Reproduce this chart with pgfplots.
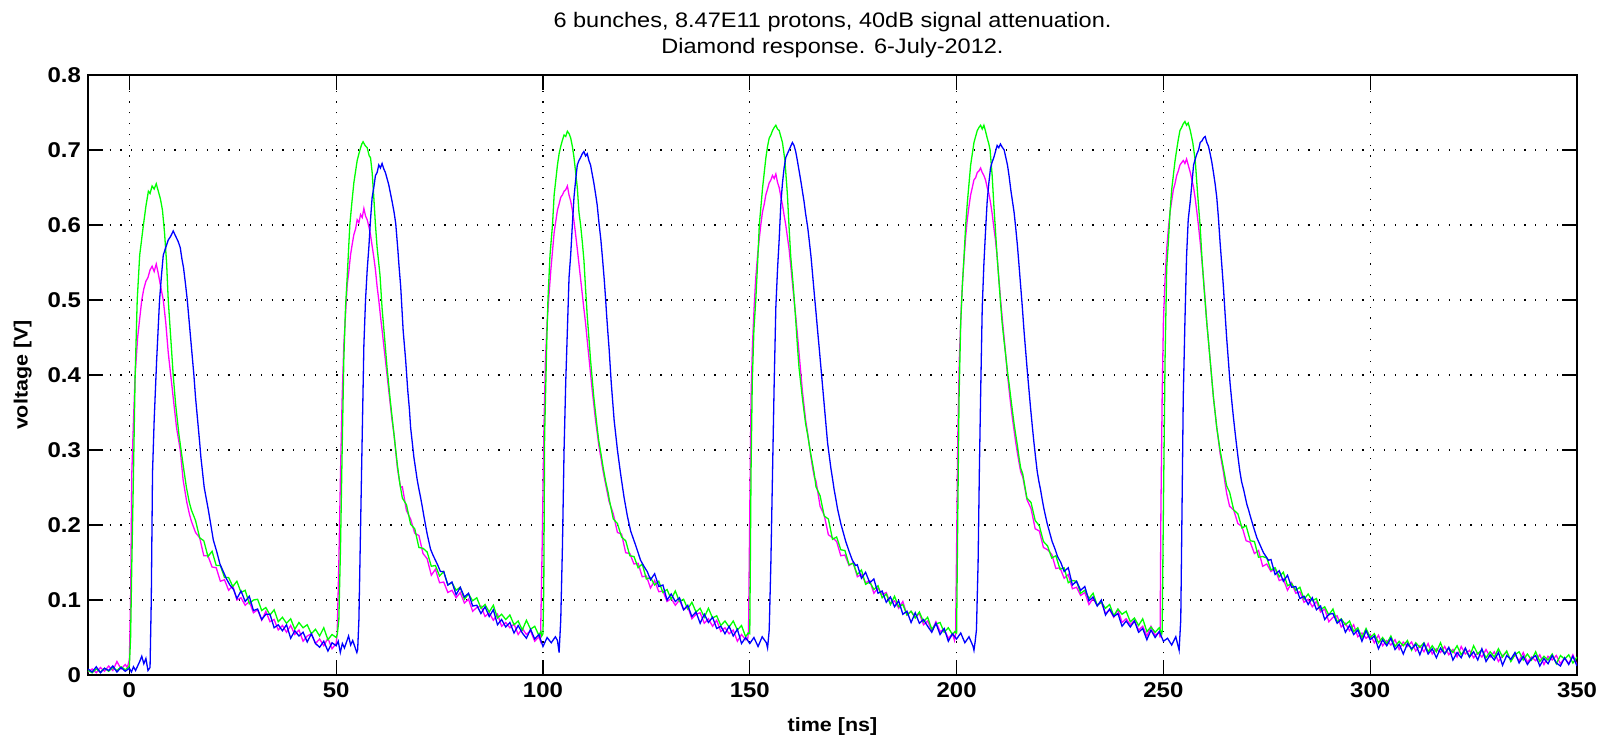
\documentclass[border=0pt]{standalone}
\usepackage{pgfplots}
\pgfplotsset{compat=1.18}
\usepackage{fontspec}
\setmainfont{Liberation Sans}[FakeStretch=1.12]
\definecolor{mgreen}{rgb}{0,1,0}
\definecolor{mmag}{rgb}{1,0,1}
\definecolor{mblue}{rgb}{0,0,1}
\begin{document}
\begin{tikzpicture}
\path[use as bounding box] (-44pt,-30.5pt) rectangle (761pt,337.5pt);
\begin{axis}[
  at={(0,0)}, anchor=south west,
  scale only axis, width=744.5pt, height=300pt,
  xmin=-10, xmax=350, ymin=0, ymax=0.8,
  xtick={0,50,...,350}, ytick={0,0.1,...,0.8},
  yticklabels={0,0.1,0.2,0.3,0.4,0.5,0.6,0.7,0.8},
  /pgf/number format/assume math mode=true,
  tick align=inside, major tick length=7.5pt,
  tick style={black, line width=0.6pt},
  axis line style={black, line width=0.8pt},
  grid=major,
  major grid style={black, line width=0.6pt, dash pattern=on 0.6pt off 4.8pt},
  tick label style={font=\bfseries\fontsize{10.7}{12}\selectfont},
  xlabel={time [ns]}, ylabel={voltage [V]},
  label style={font=\bfseries\fontsize{9.6}{11}\selectfont},
  xlabel style={at={(axis description cs:0.5,-0.0867)}, anchor=center},
  ylabel style={at={(axis description cs:-0.0439,0.5)}, anchor=center},
  title={6 bunches, 8.47E11 protons, 40dB signal attenuation.\\Diamond response. 6-July-2012.},
  title style={at={(axis description cs:0.5,1.047)}, anchor=center, align=center, font=\fontsize{10.5}{13}\selectfont},
  every axis plot/.append style={line width=0.65pt},
]
% magenta
\addplot[mmag] coordinates {
(-10,.004)(-9,.008)(-8,.003)(-7,.010)(-6,.005)(-5,.012)(-4,.006)(-3,.018)(-2,.008)(-1,.014)(-0.5,.010)(0,.02)
(0.3,.10)(0.6,.27)(1.0,.34)(1.4,.40)(2.0,.45)(3.0,.50)(3.5,.515)(4.0,.525)(4.5,.53)(5.0,.54)(5.5,.545)(6.0,.538)(6.5,.548)(7.0,.535)(7.5,.52)(8.2,.50)(8.8,.47)(9.4,.43)(10.0,.40)(10.6,.37)(11.4,.33)(12.3,.30)(13.0,.26)(13.9,.23)(14.5,.215)(15.0,.205)
(16,.190)(17,.183)(18,.159)(19,.159)(20,.144)(21,.143)(22,.125)(23,.127)(24,.113)(25,.119)(26,.100)(27,.103)(28,.093)(29,.098)(30,.083)(31,.087)(32,.073)(33,.085)(34,.071)(35,.074)(36,.060)(37,.066)(38,.057)(39,.066)(40,.054)(41,.060)(42,.045)(43,.052)(44,.055)(45,.042)(46,.048)(47,.039)(48,.049)(49,.035)
(50.0,.042)(50.24,.054)(50.65,.15)(51.05,.27)(51.45,.37)(51.85,.44)(52.26,.48)(52.66,.52)(53.0,.535)(53.47,.56)(53.9,.575)(54.27,.587)(54.7,.595)(55.08,.607)(55.5,.603)(55.9,.614)(56.3,.61)(56.7,.622)(57.1,.612)(57.5,.607)(57.9,.598)(58.3,.587)(58.7,.572)(59.1,.557)(59.5,.54)(59.9,.518)(60.3,.50)(60.7,.479)(61.1,.46)(61.5,.44)(61.9,.42)(62.3,.40)(62.7,.38)(63.1,.36)(63.5,.34)(64.0,.32)(64.4,.298)(64.8,.276)(65.2,.262)(65.6,.25)
(66,.251)(67,.219)(68,.208)(69,.189)(70,.186)(71,.162)(72,.155)(73,.133)(74,.141)(75,.123)(76,.124)(77,.110)(78,.113)(79,.103)(80,.110)(81,.096)(82,.101)(83,.085)(84,.090)(85,.092)(86,.078)(87,.083)(88,.073)(89,.081)(90,.065)(91,.070)(92,.063)(93,.068)(94,.054)(95,.062)(96,.054)(97,.059)(98,.045)(99,.051)
(99.4,.045)(99.8,.17)(100.2,.32)(100.6,.42)(101.0,.47)(101.5,.51)(101.9,.54)(102.3,.565)(102.7,.59)(103.1,.605)(103.5,.62)(103.9,.628)(104.3,.637)(104.7,.64)(105.1,.645)(105.5,.647)(105.9,.652)(106.3,.64)(106.7,.632)(107.1,.62)(107.5,.605)(107.9,.587)(108.3,.568)(108.7,.548)(109.1,.528)(109.5,.508)(109.9,.488)(110.3,.469)(110.7,.446)(111.1,.424)(111.5,.402)(111.9,.38)(112.3,.36)(112.7,.34)(113.1,.323)(113.5,.306)(114.0,.29)(114.4,.276)(114.8,.264)(115.2,.253)(115.6,.242)
(116,.231)(117,.215)(118,.190)(119,.188)(120,.163)(121,.162)(122,.148)(123,.149)(124,.131)(125,.132)(126,.116)(127,.126)(128,.111)(129,.112)(130,.098)(131,.102)(132,.093)(133,.100)(134,.087)(135,.091)(136,.075)(137,.081)(138,.083)(139,.069)(140,.075)(141,.065)(142,.073)(143,.058)(144,.063)(145,.055)(146,.060)(147,.045)(148,.054)(149,.047)
(149.5,.048)(149.7,.059)(150.0,.22)(150.3,.37)(150.65,.44)(151.05,.49)(151.45,.53)(151.85,.557)(152.26,.58)(152.66,.60)(153.06,.617)(153.5,.628)(153.87,.64)(154.3,.648)(154.68,.656)(155.1,.66)(155.48,.666)(155.9,.662)(156.3,.668)(156.7,.657)(157.1,.65)(157.5,.638)(157.9,.627)(158.3,.613)(158.7,.60)(159.1,.584)(159.5,.568)(159.9,.546)(160.3,.523)(160.7,.50)(161.1,.479)(161.5,.455)(161.9,.43)(162.3,.405)(162.7,.38)(163.1,.36)(163.5,.34)(164.0,.322)(164.4,.306)(164.8,.29)(165.2,.276)(165.6,.264)
(166,.259)(167,.225)(168,.213)(169,.187)(170,.183)(171,.178)(172,.159)(173,.160)(174,.146)(175,.150)(176,.131)(177,.134)(178,.123)(179,.126)(180,.109)(181,.116)(182,.107)(183,.110)(184,.095)(185,.099)(186,.089)(187,.098)(188,.080)(189,.085)(190,.077)(191,.082)(192,.067)(193,.072)(194,.059)(195,.071)(196,.058)(197,.061)(198,.049)(199,.055)(199.5,.046)
(199.76,.054)(200.0,.17)(200.3,.32)(200.65,.42)(201.13,.49)(201.45,.525)(201.77,.553)(202.2,.585)(202.58,.607)(203.0,.625)(203.39,.64)(203.8,.65)(204.19,.66)(204.6,.663)(205.0,.67)(205.4,.672)(205.8,.676)(206.2,.67)(206.6,.666)(207.0,.66)(207.4,.65)(207.8,.642)(208.2,.63)(208.6,.615)(209.0,.597)(209.4,.58)(209.8,.558)(210.2,.53)(210.6,.503)(211.0,.478)(211.5,.449)(211.9,.425)(212.3,.40)(212.7,.38)(213.1,.36)(213.5,.342)(213.9,.326)(214.3,.31)(214.7,.296)(215.1,.283)(215.5,.271)
(216,.264)(217,.234)(218,.222)(219,.195)(220,.192)(221,.170)(222,.167)(223,.161)(224,.142)(225,.143)(226,.129)(227,.134)(228,.115)(229,.117)(230,.106)(231,.110)(232,.094)(233,.102)(234,.093)(235,.097)(236,.082)(237,.087)(238,.077)(239,.087)(240,.070)(241,.075)(242,.067)(243,.073)(244,.060)(245,.065)(246,.052)(247,.065)(248,.053)(249,.057)
(249.2,.05)(249.4,.22)(249.7,.37)(250.0,.47)(250.4,.528)(250.8,.568)(251.2,.595)(251.6,.617)(252.0,.632)(252.4,.647)(252.8,.655)(253.2,.666)(253.6,.672)(254.0,.68)(254.4,.683)(254.8,.686)(255.2,.682)(255.6,.688)(256.0,.68)(256.5,.67)(256.9,.66)(257.3,.65)(257.7,.635)(258.1,.617)(258.5,.598)(258.9,.577)(259.3,.553)(259.7,.528)(260.1,.50)(260.5,.469)(260.9,.445)(261.3,.42)(261.7,.395)(262.1,.37)(262.5,.35)(262.9,.33)(263.3,.313)(263.7,.296)(264.1,.283)(264.5,.271)(264.9,.256)(265.3,.242)
(266,.225)(267,.220)(268,.202)(269,.198)(270,.179)(271,.177)(272,.162)(273,.166)(274,.145)(275,.148)(276,.138)(277,.142)(278,.126)(279,.128)(280,.113)(281,.123)(282,.109)(283,.111)(284,.097)(285,.101)(286,.091)(287,.098)(288,.084)(289,.088)(290,.071)(291,.077)(292,.079)(293,.064)(294,.069)(295,.059)(296,.067)(297,.051)(298,.056)(299,.049)(300,.054)
(301,.043)(302,.053)(303,.039)(304,.046)(305,.040)(306,.047)(307,.034)(308,.044)(309,.038)(310,.044)(311,.032)(312,.039)(313,.031)(314,.042)(315,.028)(316,.035)(317,.030)(318,.038)(319,.027)(320,.034)(321,.024)(322,.038)(323,.028)(324,.033)(325,.023)(326,.030)(327,.024)(328,.034)(329,.024)(330,.031)(331,.018)(332,.026)(333,.031)(334,.019)(335,.027)(336,.019)(337,.030)(338,.017)(339,.024)(340,.019)(341,.027)(342,.014)(343,.025)(344,.020)(345,.026)(346,.015)(347,.023)(348,.015)(349,.027)(350,.013)
};
% green
\addplot[mgreen] coordinates {
(-10,.006)(-9,.003)(-8,.008)(-7,.004)(-6,.009)(-5,.005)(-4,.010)(-3,.006)(-2,.011)(-1,.007)(-0.5,.009)(0,.012)
(0.3,.05)(0.6,.15)(1.0,.27)(1.4,.40)(1.9,.50)(2.5,.56)(3.4,.60)(4.0,.625)(4.6,.645)(5.0,.642)(5.5,.652)(6.0,.648)(6.5,.655)(7.0,.645)(7.5,.635)(8.0,.62)(8.5,.59)(9.0,.55)(9.4,.50)(10.0,.45)(10.6,.40)(11.2,.36)(12.0,.32)(12.5,.30)(13.0,.28)(13.8,.25)(14.5,.23)(15.0,.22)
(16,.206)(17,.183)(18,.179)(19,.158)(20,.165)(21,.146)(22,.146)(23,.130)(24,.130)(25,.118)(26,.125)(27,.110)(28,.113)(29,.095)(30,.100)(31,.101)(32,.086)(33,.090)(34,.080)(35,.087)(36,.071)(37,.077)(38,.069)(39,.075)(40,.061)(41,.070)(42,.063)(43,.067)(44,.055)(45,.061)(46,.052)(47,.063)(48,.047)(49,.054)
(50.0,.050)(50.3,.055)(50.65,.074)(51.05,.17)(51.45,.30)(51.85,.42)(52.26,.49)(52.66,.53)(53.3,.60)(53.8,.63)(54.27,.656)(54.7,.672)(55.08,.686)(55.5,.695)(55.9,.703)(56.2,.708)(56.5,.711)(57.0,.706)(57.5,.703)(58.0,.692)(58.3,.690)(58.7,.67)(59.1,.637)(59.5,.60)(59.9,.57)(60.6,.533)(61.1,.489)(61.7,.45)(62.3,.41)(63.1,.365)(64.0,.32)(64.8,.28)(65.4,.255)
(66,.236)(67,.227)(68,.201)(69,.195)(70,.170)(71,.169)(72,.164)(73,.145)(74,.146)(75,.132)(76,.138)(77,.120)(78,.123)(79,.113)(80,.117)(81,.101)(82,.108)(83,.099)(84,.103)(85,.089)(86,.094)(87,.084)(88,.093)(89,.076)(90,.081)(91,.074)(92,.080)(93,.067)(94,.072)(95,.060)(96,.073)(97,.061)(98,.065)(99,.053)(99.5,.058)(99.7,.052)
(100.0,.055)(100.2,.12)(100.4,.32)(100.9,.44)(101.2,.50)(101.7,.56)(102.3,.60)(102.7,.64)(103.1,.66)(103.5,.68)(103.9,.695)(104.3,.705)(104.7,.713)(105.1,.72)(105.5,.718)(105.9,.725)(106.3,.722)(106.7,.716)(107.1,.705)(107.5,.69)(107.9,.67)(108.3,.65)(108.7,.617)(109.1,.60)(109.5,.578)(109.9,.553)(110.3,.515)(110.7,.479)(111.1,.45)(111.5,.42)(111.9,.395)(112.3,.37)(112.7,.35)(113.1,.33)(113.5,.312)(114.0,.296)(114.6,.275)(115.2,.257)(115.8,.242)
(116,.235)(117,.208)(118,.202)(119,.184)(120,.179)(121,.159)(122,.158)(123,.143)(124,.148)(125,.128)(126,.130)(127,.120)(128,.125)(129,.110)(130,.114)(131,.101)(132,.112)(133,.098)(134,.101)(135,.088)(136,.097)(137,.084)(138,.089)(139,.077)(140,.089)(141,.076)(142,.079)(143,.066)(144,.072)(145,.064)(146,.072)(147,.060)(148,.066)(149,.051)(149.6,.056)
(150.0,.055)(150.3,.27)(150.6,.39)(151.0,.46)(151.45,.50)(151.9,.55)(152.3,.60)(152.7,.625)(153.1,.65)(153.5,.67)(153.9,.69)(154.3,.705)(154.7,.716)(155.1,.72)(155.5,.726)(155.9,.73)(156.3,.733)(156.7,.728)(157.1,.726)(157.5,.718)(157.9,.71)(158.5,.686)(159.1,.64)(159.5,.597)(159.9,.558)(160.3,.533)(160.7,.505)(161.1,.474)(161.5,.44)(161.9,.41)(162.3,.39)(162.7,.37)(163.1,.352)(163.5,.335)(164.0,.32)(164.4,.306)(164.8,.293)(165.2,.281)(165.6,.268)
(166,.251)(167,.239)(168,.212)(169,.208)(170,.181)(171,.184)(172,.167)(173,.166)(174,.147)(175,.149)(176,.134)(177,.140)(178,.121)(179,.124)(180,.114)(181,.119)(182,.103)(183,.108)(184,.094)(185,.105)(186,.091)(187,.094)(188,.080)(189,.085)(190,.076)(191,.084)(192,.071)(193,.077)(194,.061)(195,.068)(196,.070)(197,.057)(198,.063)(199,.054)(199.6,.058)
(200.0,.056)(200.3,.22)(200.6,.37)(201.0,.47)(201.4,.52)(201.8,.558)(202.2,.60)(202.6,.63)(203.0,.655)(203.4,.68)(203.8,.695)(204.2,.71)(204.6,.718)(205.0,.726)(205.4,.73)(205.8,.733)(206.2,.728)(206.6,.733)(207.0,.725)(207.4,.716)(207.8,.708)(208.1,.70)(208.6,.666)(209.0,.627)(209.4,.592)(209.8,.558)(210.2,.528)(210.6,.498)(211.0,.47)(211.5,.444)(211.9,.425)(212.3,.405)(212.7,.388)(213.1,.37)(213.5,.352)(213.9,.335)(214.3,.32)(214.7,.306)(215.1,.29)(215.5,.276)
(216,.268)(217,.236)(218,.230)(219,.206)(220,.199)(221,.178)(222,.172)(223,.156)(224,.159)(225,.141)(226,.143)(227,.123)(228,.126)(229,.125)(230,.109)(231,.113)(232,.102)(233,.109)(234,.093)(235,.097)(236,.089)(237,.094)(238,.079)(239,.088)(240,.081)(241,.085)(242,.071)(243,.076)(244,.066)(245,.075)(246,.058)(247,.064)(248,.057)(249,.063)(249.6,.055)
(249.7,.058)(250.0,.22)(250.4,.42)(250.8,.543)(251.2,.577)(251.6,.617)(252.0,.647)(252.4,.666)(252.8,.685)(253.2,.70)(253.6,.714)(254.0,.726)(254.4,.73)(254.8,.735)(255.2,.738)(255.6,.733)(256.0,.736)(256.5,.726)(257.1,.71)(257.7,.686)(258.2,.647)(258.9,.597)(259.3,.558)(259.8,.518)(260.5,.469)(260.9,.445)(261.3,.42)(261.7,.395)(262.1,.37)(262.5,.35)(262.9,.33)(263.3,.315)(263.7,.30)(264.1,.288)(264.5,.276)(264.9,.264)(265.3,.252)
(266,.244)(267,.220)(268,.215)(269,.196)(270,.199)(271,.179)(272,.178)(273,.157)(274,.158)(275,.156)(276,.140)(277,.143)(278,.131)(279,.137)(280,.119)(281,.122)(282,.113)(283,.117)(284,.101)(285,.108)(286,.099)(287,.102)(288,.087)(289,.091)(290,.080)(291,.088)(292,.071)(293,.075)(294,.067)(295,.072)(296,.058)(297,.063)(298,.050)(299,.062)(300,.050)
(301,.055)(302,.043)(303,.050)(304,.042)(305,.052)(306,.038)(307,.045)(308,.039)(309,.046)(310,.033)(311,.043)(312,.037)(313,.043)(314,.031)(315,.039)(316,.031)(317,.043)(318,.028)(319,.036)(320,.030)(321,.039)(322,.027)(323,.035)(324,.024)(325,.039)(326,.028)(327,.034)(328,.023)(329,.031)(330,.024)(331,.035)(332,.024)(333,.032)(334,.018)(335,.027)(336,.031)(337,.020)(338,.028)(339,.020)(340,.031)(341,.018)(342,.025)(343,.020)(344,.028)(345,.015)(346,.026)(347,.021)(348,.027)(349,.016)(350,.024)
};
% blue
\addplot[mblue] coordinates {
(-10,.008)(-9,.004)(-8,.011)(-7,.003)(-6,.009)(-5,.006)(-4,.012)(-3,.004)(-2,.010)(-1,.005)(0,.009)
(0.5,.004)(1.0,.011)(1.5,.006)(2.0,.012)(2.5,.018)(3.0,.025)(3.5,.015)(4.0,.022)(4.5,.006)(5.0,.01)(5.3,.10)(5.6,.27)(6.0,.34)(6.6,.42)(7.3,.50)(7.8,.535)(8.2,.56)(8.8,.57)(9.4,.58)(10.0,.585)(10.6,.592)(11.2,.585)(11.8,.578)(12.3,.57)(12.7,.555)(13.1,.543)(13.6,.52)(14.0,.50)(14.4,.475)(14.8,.45)(15.2,.425)(15.6,.40)(16.0,.37)(16.5,.34)(17.0,.31)(17.3,.29)(17.7,.27)(18.1,.25)(18.6,.235)(19.1,.22)(19.7,.20)(20.3,.18)(21.1,.165)(21.9,.148)(22.7,.138)(23.5,.128)(24.3,.12)(25.2,.114)
(26,.102)(27,.112)(28,.098)(29,.105)(30,.086)(31,.088)(32,.074)(33,.081)(34,.081)(35,.063)(36,.067)(37,.059)(38,.067)(39,.049)(40,.059)(41,.052)(42,.057)(43,.044)(44,.055)(45,.042)(46,.037)(47,.045)(48,.032)(49,.043)
(50,.039)(50.5,.045)(51,.030)(51.5,.042)(52,.036)(52.5,.044)(53,.052)(53.5,.040)(54,.046)(54.5,.038)(55,.030)(55.2,.034)
(55.5,.074)(55.9,.197)(56.3,.32)(56.7,.44)(57.1,.50)(57.5,.54)(57.9,.57)(58.3,.607)(58.7,.637)(59.1,.65)(59.5,.666)(59.9,.67)(60.3,.68)(60.7,.676)(61.1,.682)(61.5,.675)(61.9,.67)(62.3,.662)(62.7,.654)(63.1,.643)(63.5,.632)(64.0,.617)(64.4,.602)(64.9,.568)(65.2,.545)(65.6,.518)(66.2,.459)(66.8,.42)(67.3,.38)(67.7,.355)(68.0,.33)(68.4,.31)(68.8,.29)(69.2,.275)(69.6,.26)(70.0,.248)(70.4,.237)(70.8,.225)(71.2,.212)(71.6,.20)(72.0,.188)(72.4,.178)(72.8,.168)(73.4,.16)(74.0,.153)(74.6,.146)(75.2,.138)
(76,.138)(77,.120)(78,.124)(79,.107)(80,.117)(81,.104)(82,.109)(83,.092)(84,.093)(85,.082)(86,.091)(87,.078)(88,.087)(89,.067)(90,.074)(91,.064)(92,.070)(93,.056)(94,.066)(95,.056)(96,.049)(97,.061)(98,.048)(99,.054)(100,.038)(101,.050)(102,.043)(103,.051)
(103.5,.046)(103.9,.030)(104.3,.074)(104.7,.17)(105.1,.30)(105.5,.39)(105.9,.46)(106.3,.53)(106.7,.56)(107.1,.60)(107.5,.637)(107.9,.66)(108.3,.68)(108.7,.686)(109.1,.69)(109.5,.695)(109.9,.698)(110.3,.692)(110.7,.695)(111.1,.686)(111.5,.68)(111.9,.668)(112.3,.656)(112.7,.642)(113.1,.627)(113.5,.605)(114.0,.58)(114.4,.555)(114.8,.528)(115.1,.505)(115.4,.479)(115.7,.456)(116.0,.434)(116.5,.39)(117.2,.34)(118.0,.30)(118.8,.267)(119.6,.237)(120.4,.212)(121.2,.192)(122.4,.173)(123.6,.153)(124.4,.145)(125.2,.138)
(126,.127)(127,.135)(128,.118)(129,.120)(130,.100)(131,.108)(132,.098)(133,.103)(134,.087)(135,.093)(136,.078)(137,.084)(138,.069)(139,.081)(140,.070)(141,.077)(142,.062)(143,.065)(144,.055)(145,.065)(146,.052)(147,.061)(148,.042)(149,.050)(150,.042)(151,.050)(152,.038)(153,.051)(154,.043)
(154.3,.036)(154.7,.06)(155.1,.15)(155.5,.27)(155.9,.39)(156.3,.49)(156.7,.54)(157.1,.58)(157.5,.627)(157.9,.656)(158.3,.676)(158.7,.69)(159.1,.695)(159.5,.70)(159.9,.705)(160.3,.71)(160.7,.706)(161.1,.698)(161.5,.686)(161.9,.673)(162.3,.66)(162.7,.646)(163.1,.632)(163.5,.615)(164.0,.597)(164.4,.578)(164.8,.558)(165.2,.533)(165.6,.508)(166.0,.484)(166.4,.459)(166.8,.435)(167.2,.41)(167.6,.385)(168.0,.36)(168.4,.335)(168.8,.31)(169.2,.293)(169.6,.276)(170.0,.262)(170.4,.247)(170.8,.235)(171.2,.222)(171.6,.212)(172.0,.202)(172.6,.19)(173.2,.178)(174.0,.165)(174.8,.153)(175.6,.146)
(176,.147)(177,.129)(178,.137)(179,.123)(180,.128)(181,.109)(182,.112)(183,.097)(184,.104)(185,.091)(186,.099)(187,.081)(188,.085)(189,.070)(190,.083)(191,.069)(192,.074)(193,.065)(194,.057)(195,.069)(196,.054)(197,.062)(198,.045)(199,.055)(200,.048)(201,.056)(202,.043)(203,.051)(204,.038)
(204.2,.033)(204.5,.045)(204.8,.06)(205.2,.15)(205.5,.27)(205.8,.37)(206.2,.49)(206.6,.548)(207.0,.592)(207.4,.632)(207.8,.656)(208.2,.676)(208.6,.684)(209.0,.69)(209.4,.698)(209.8,.706)(210.2,.703)(210.6,.708)(211.0,.704)(211.5,.70)(211.9,.69)(212.3,.68)(212.7,.665)(213.1,.647)(213.5,.632)(213.9,.617)(214.3,.596)(214.7,.573)(215.1,.546)(215.5,.518)(215.9,.49)(216.3,.459)(216.7,.432)(217.1,.405)(217.5,.38)(217.9,.355)(218.3,.332)(218.7,.31)(219.1,.29)(219.5,.271)(219.9,.258)(220.3,.247)(220.7,.234)(221.1,.222)(221.5,.212)(221.9,.202)(222.5,.19)(223.1,.178)(223.8,.168)(224.4,.158)(225.2,.15)
(226,.138)(227,.143)(228,.120)(229,.125)(230,.113)(231,.118)(232,.099)(233,.104)(234,.092)(235,.100)(236,.080)(237,.088)(238,.078)(239,.082)(240,.065)(241,.072)(242,.064)(243,.072)(244,.057)(245,.062)(246,.047)(247,.060)(248,.050)(249,.058)(250,.045)(251,.049)(252,.040)(253,.051)
(253.8,.033)(254.2,.074)(254.5,.22)(254.8,.37)(255.2,.47)(255.6,.558)(256.0,.607)(256.5,.632)(256.9,.656)(257.3,.68)(257.7,.688)(258.1,.695)(258.5,.70)(258.9,.71)(259.3,.712)(259.7,.716)(260.1,.718)(260.5,.71)(260.9,.705)(261.3,.695)(261.7,.684)(262.1,.67)(262.5,.655)(262.9,.637)(263.3,.61)(263.7,.577)(264.1,.548)(264.5,.518)(264.9,.483)(265.3,.449)(265.7,.42)(266.1,.39)(266.5,.367)(266.9,.345)(267.3,.325)(267.7,.306)(268.1,.288)(268.5,.271)(268.9,.258)(269.4,.247)(269.8,.237)(270.2,.227)(270.6,.22)(271.0,.212)(271.8,.197)(272.6,.183)(273.4,.173)(274.2,.163)(275.4,.153)
(276,.154)(277,.134)(278,.139)(279,.125)(280,.133)(281,.117)(282,.118)(283,.102)(284,.105)(285,.094)(286,.103)(287,.087)(288,.092)(289,.074)(290,.081)(291,.082)(292,.069)(293,.074)(294,.057)(295,.066)(296,.054)(297,.060)(298,.045)(299,.059)(300,.047)
(301,.052)(302,.035)(303,.047)(304,.039)(305,.049)(306,.034)(307,.041)(308,.028)(309,.042)(310,.035)(311,.041)(312,.027)(313,.042)(314,.028)(315,.035)(316,.023)(317,.036)(318,.028)(319,.037)(320,.020)(321,.030)(322,.023)(323,.036)(324,.024)(325,.031)(326,.020)(327,.035)(328,.018)(329,.027)(330,.020)(331,.030)(332,.013)(333,.026)(334,.021)(335,.030)(336,.016)(337,.025)(338,.014)(339,.022)(340,.026)(341,.012)(342,.022)(343,.015)(344,.026)(345,.016)(346,.012)(347,.023)(348,.014)(349,.025)(350,.012)
};
\end{axis}
\end{tikzpicture}
\end{document}
